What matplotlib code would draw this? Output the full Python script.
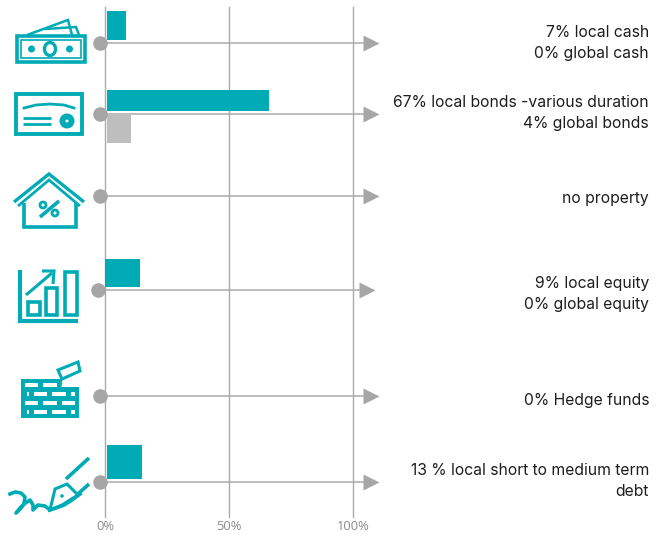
import matplotlib
matplotlib.use("Agg")
import matplotlib.pyplot as plt
from matplotlib.patches import Rectangle, Ellipse, Circle, Polygon

# values in percent
local_vals = [8.3, 66, 0, 14, 0, 14.7]
global_vals = [0, 10.5, 0, 0, 0, 0]
x_ticks = [0, 50, 100]
x_tick_labels = ["0%", "50%", "100%"]
labels = [
    "7% local cash\n0% global cash",
    "67% local bonds -various duration\n4% global bonds",
    "no property",
    "9% local equity\n0% global equity",
    "0% Hedge funds",
    "13 % local short to medium term\ndebt",
]

teal = "#00ABB6"
grey = "#A6A6A6"
light = "#BEBEBE"

W, H = 657, 535
fig = plt.figure(figsize=(W / 100, H / 100), dpi=100)

# overlay in pixel coords for the icons and labels
bg = fig.add_axes([0, 0, 1, 1])
bg.set_xlim(0, W)
bg.set_ylim(H, 0)
bg.axis("off")

# main chart axes, y is in picture rows
top, bottom = 7, 517
ax = fig.add_axes([105.3 / W, 1 - bottom / H, 248 / W, (bottom - top) / H])
ax.set_xlim(0, 100)
ax.set_ylim(bottom, top)
ax.patch.set_alpha(0)
for s in ax.spines.values():
    s.set_visible(False)
ax.set_yticks([])
ax.set_xticks(x_ticks)
ax.set_xticklabels(x_tick_labels, family="Open Sans", fontsize=9.3, color="#8C8C8C")
ax.tick_params(axis="x", length=0, pad=2)
ax.grid(axis="x", color="#ABABAB", lw=1.0)
for gl in ax.get_xgridlines():
    gl.set_clip_on(False)
ax.set_axisbelow(True)

# row layout: y, dot x, arrow tip x, bars
rows = [43, 114, 196, 290, 396, 482]
dot_x = [100, 100, 100, 98, 100, 100]
tip_x = [379, 379, 379, 375, 379, 379]
local_span = [(11, 40), (90, 111), None, (259, 287), None, (445, 479)]
global_span = [None, (115, 143), None, None, None, None]
bar_start = [0.8, 0.8, 0, 0, 0, 0.8]
label_y = [43, 113, 198, 294, 400, 481]

to_x = lambda px: (px - 105.3) / 2.48

for i, y in enumerate(rows):
    ax.plot([to_x(dot_x[i]), to_x(tip_x[i] - 12)], [y, y], color="#ABABAB", lw=1.1, clip_on=False, zorder=3)
    ax.plot(to_x(dot_x[i]), y, "o", ms=10.5, color=grey, clip_on=False, zorder=4, mec="none")
    ax.plot(to_x(tip_x[i] - 8.5), y, ">", ms=11, color=grey, clip_on=False, zorder=4, mec="none")
    if local_span[i]:
        a, b = local_span[i]
        ax.barh((a + b) / 2, local_vals[i] - bar_start[i], height=b - a, left=bar_start[i], color=teal, zorder=2)
    if global_span[i]:
        a, b = global_span[i]
        ax.barh((a + b) / 2, global_vals[i] - bar_start[i], height=b - a, left=bar_start[i], color=light, zorder=2)
    bg.text(649, label_y[i], labels[i], ha="right", va="center", family="Inter",
            fontsize=11.3, color="#1E1E1E", linespacing=1.55)


def line(xs, ys, lw=2.0):
    bg.plot(xs, ys, color=teal, lw=lw, solid_capstyle="butt", solid_joinstyle="miter")


def rect(x0, y0, x1, y1, fill=False, lw=2.0, fc=None):
    bg.add_patch(Rectangle((x0, y0), x1 - x0, y1 - y0, fill=fill, ec=teal if not fill else "none",
                           fc=fc or teal, lw=lw))


# cash
rect(17, 36, 85, 62, lw=2.6)
rect(21, 40, 81, 58, lw=1.2)
line([27, 68, 72], [35, 20, 35], lw=1.8)
line([45, 76, 79], [29, 27, 35], lw=1.8)
bg.add_patch(Ellipse((50, 49), 11, 13, fill=False, ec=teal, lw=2.4))
bg.add_patch(Circle((31.5, 49), 3.5, fc=teal, ec="none"))
bg.add_patch(Circle((69.5, 49), 3.5, fc=teal, ec="none"))

# certificate
rect(16, 94, 82, 134, lw=2.8)
bg.plot([24, 36, 50, 64, 74], [108, 105, 104, 105, 108], color=teal, lw=2)
line([23, 51], [118, 118])
line([23, 51], [124, 124])
bg.add_patch(Circle((67, 121), 7.5, fc=teal, ec="none"))
bg.add_patch(Circle((67, 121), 1.5, fc="white", ec="none"))

# house
line([14, 49, 84], [202, 174, 202], lw=2.4)
line([18, 49, 80], [206, 180, 206], lw=2.0)
line([23.5, 23.5, 75.5, 75.5], [203, 226.5, 226.5, 203], lw=2.6)
line([40, 59], [217, 201], lw=2.6)
bg.add_patch(Circle((43, 205), 3, fill=False, ec=teal, lw=2))
bg.add_patch(Circle((55, 213), 3, fill=False, ec=teal, lw=2))

# growth chart
line([20, 20, 78], [270, 320.5, 320.5], lw=3)
rect(28, 302, 40, 315, lw=2.6)
rect(46, 288, 57, 315, lw=2.6)
rect(65, 272, 77, 315, lw=2.6)
line([26, 52], [295, 273], lw=2.2)
line([42, 54, 53], [271, 271, 284], lw=2.2)

# bricks
rect(21, 387, 79, 418, fill=True)
rect(21, 379, 60, 388, fill=True)
brick_rows = [
    [(25, 38), (43, 57)],
    [(27, 29), (34, 47), (52, 66), (71, 75)],
    [(25, 38), (43, 57), (62, 75)],
    [(27, 29), (34, 47), (52, 66), (71, 75)],
]
for (r0, r1), row in zip([(383, 387), (392, 396), (401, 405), (410, 414)], brick_rows):
    for a, b in row:
        rect(a, r0, b, r1, fill=True, fc="white")
bg.add_patch(Polygon([(58, 370), (78, 362), (80, 371), (62, 379)], fill=False, ec=teal, lw=2.2))
line([61, 60], [379, 388], lw=2)

# signature and pen
bg.plot([10, 15, 21, 25, 24, 18, 16, 24, 30, 33, 33, 38, 45, 50, 56, 64, 72, 80],
        [494, 492, 493, 497, 504, 511, 513, 504, 500, 505, 510, 505, 506, 510, 508, 505, 500, 494],
        color=teal, lw=2.6, solid_joinstyle="round")
bg.add_patch(Polygon([(50, 510), (55, 489), (67, 484), (78, 495), (62, 505)], fill=False, ec=teal, lw=2.2))
line([66, 89], [479, 458], lw=2.6)
line([78, 89], [494, 484], lw=2.6)
bg.add_patch(Circle((62, 496), 1.8, fc=teal, ec="none"))

fig.savefig("out.png", dpi=100, facecolor="white")
